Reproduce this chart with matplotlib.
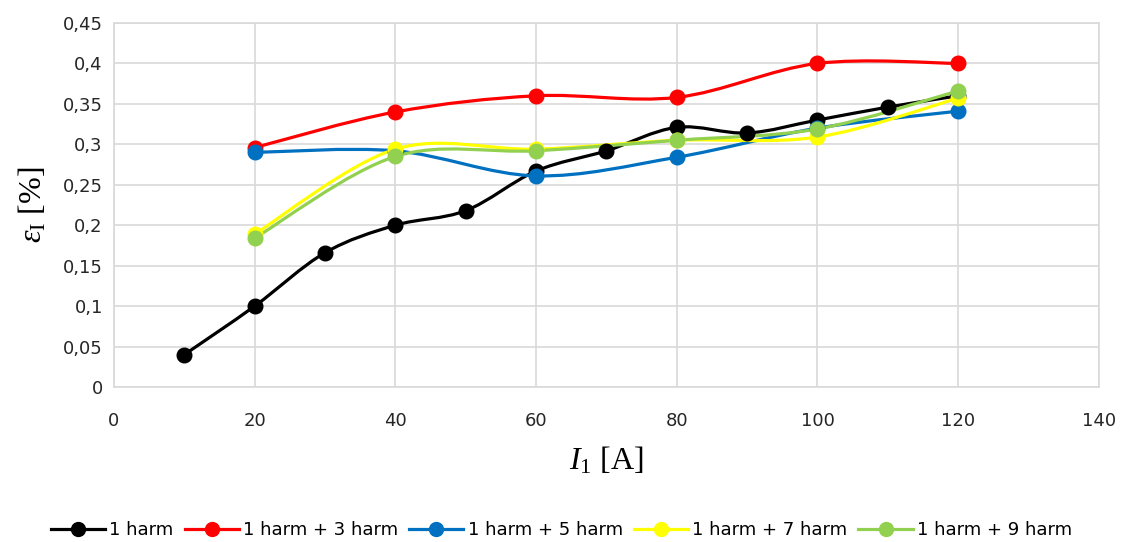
import numpy as np
import matplotlib
matplotlib.use("Agg")
import matplotlib.pyplot as plt
from matplotlib.path import Path
from matplotlib.patches import PathPatch
from matplotlib.lines import Line2D
from matplotlib.ticker import FuncFormatter, MultipleLocator

plt.rcParams["mathtext.fontset"] = "custom"
plt.rcParams["mathtext.rm"] = "Liberation Serif"
plt.rcParams["mathtext.it"] = "Liberation Serif:italic"

# ---- data ----
x_h1 = [10, 20, 30, 40, 50, 60, 70, 80, 90, 100, 110, 120]
y_h1 = [0.040, 0.100, 0.166, 0.200, 0.218, 0.267, 0.292, 0.321, 0.314, 0.330, 0.346, 0.360]
x_h = [20, 40, 60, 80, 100, 120]
y_h3 = [0.296, 0.340, 0.360, 0.358, 0.400, 0.400]
y_h5 = [0.290, 0.292, 0.261, 0.284, 0.320, 0.341]
y_h7 = [0.189, 0.294, 0.294, 0.305, 0.309, 0.357]
y_h9 = [0.184, 0.285, 0.292, 0.305, 0.319, 0.366]

series_labels = ["1 harm", "1 harm + 3 harm", "1 harm + 5 harm", "1 harm + 7 harm", "1 harm + 9 harm"]
series_x = [x_h1, x_h, x_h, x_h, x_h]
series_y = [y_h1, y_h3, y_h5, y_h7, y_h9]
colors = ["#000000", "#FF0000", "#0070C0", "#FFFF00", "#92D050"]

x_ticks = [0, 20, 40, 60, 80, 100, 120, 140]

def smooth_path(xs, ys):
    pts = np.column_stack([xs, ys]).astype(float)
    n = len(pts)
    verts = [pts[0]]
    codes = [Path.MOVETO]
    for i in range(n - 1):
        p0 = pts[i - 1] if i > 0 else pts[i]
        p1 = pts[i]
        p2 = pts[i + 1]
        p3 = pts[i + 2] if i + 2 < n else pts[i + 1]
        c1 = p1 + (p2 - p0) / 6.0
        c2 = p2 - (p3 - p1) / 6.0
        verts += [c1, c2, p2]
        codes += [Path.CURVE4] * 3
    return Path(verts, codes)

fig = plt.figure(figsize=(11.23, 5.42), dpi=100)
ax = fig.add_axes([0.1015, 0.286, 0.877, 0.6716])

for xs, ys, c in zip(series_x, series_y, colors):
    patch = PathPatch(smooth_path(xs, ys), facecolor="none", edgecolor=c,
                      linewidth=2.3, transform=ax.transData, zorder=3,
                      capstyle="round", joinstyle="round")
    ax.add_patch(patch)
    ax.plot(xs, ys, linestyle="none", marker="o", markersize=10.5,
            color=c, zorder=4)

ax.set_xlim(0, 140)
ax.set_ylim(0, 0.45)
ax.set_xticks(x_ticks)
ax.yaxis.set_major_locator(MultipleLocator(0.05))

def fmt_y(v, pos):
    s = ("%.2f" % v).rstrip("0").rstrip(".")
    return s.replace(".", ",")

ax.yaxis.set_major_formatter(FuncFormatter(fmt_y))
ax.grid(True, color="#D9D9D9", linewidth=1.2, zorder=0)
ax.set_axisbelow(True)
for sp in ax.spines.values():
    sp.set_color("#D9D9D9")
    sp.set_linewidth(1.2)
ax.tick_params(length=0, labelsize=13, labelcolor="#262626")
ax.tick_params(axis="x", pad=18)
ax.tick_params(axis="y", pad=8)
for lab in ax.get_xticklabels() + ax.get_yticklabels():
    lab.set_fontfamily("DejaVu Sans")

ax.set_xlabel(r"$\mathit{I}_{\mathrm{1}}$ [A]", fontsize=23, family="Liberation Serif", labelpad=11)
ax.set_ylabel(r"$\mathit{\varepsilon}_{\mathrm{I}}$ [%]", fontsize=23, family="Liberation Serif", labelpad=10)

handles = [Line2D([0], [0], color=c, linewidth=2.3, marker="o", markersize=10) for c in colors]
fig.legend(handles, series_labels, loc="center", bbox_to_anchor=(0.5, 0.022),
           ncol=5, frameon=False, handlelength=3.0, columnspacing=0.6,
           handletextpad=0.25, prop={"family": "DejaVu Sans", "size": 13})

fig.savefig("out.png", dpi=100)
